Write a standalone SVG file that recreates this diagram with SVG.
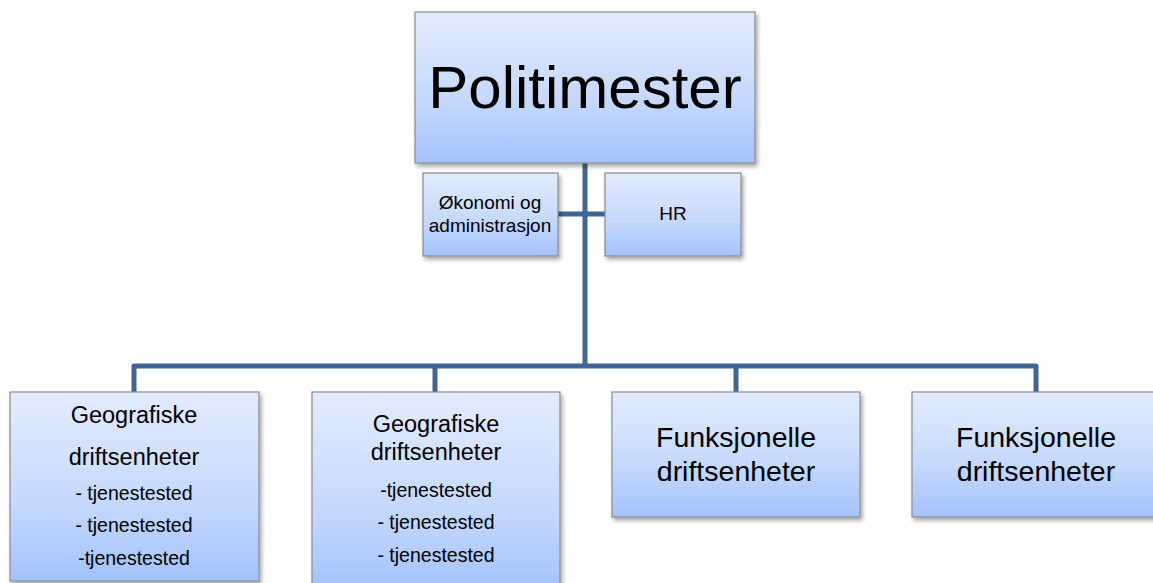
<svg xmlns="http://www.w3.org/2000/svg" width="1153" height="583" viewBox="0 0 1153 583">
<defs>
<linearGradient id="g" x1="0" y1="0" x2="0" y2="1">
<stop offset="0" stop-color="#E3ECFE"/>
<stop offset="0.6" stop-color="#C4D8FD"/>
<stop offset="1" stop-color="#A3C2FC"/>
</linearGradient>
<filter id="sh" x="-10%" y="-10%" width="130%" height="130%">
<feDropShadow dx="2" dy="3" stdDeviation="2" flood-color="#000" flood-opacity="0.35"/>
</filter>
</defs>
<style>
.box{fill:url(#g);stroke:#8C8C8C;stroke-width:1.2;filter:url(#sh)}
.t{font-family:"Liberation Sans",Arial,sans-serif;fill:#000;text-anchor:middle}
.conn{fill:none;stroke:#3F6696;stroke-width:5;stroke-linejoin:round}
</style>
<rect width="1153" height="583" fill="#FFFFFF"/>
<g id="connectors">
<path class="conn" d="M585,163 V366"/>
<path class="conn" d="M557,214 H605"/>
<path class="conn" d="M134,392 V366 H1036 V392"/>
<path class="conn" d="M435,366 V392"/>
<path class="conn" d="M736,366 V392"/>
</g>
<g id="politimester">
<rect class="box" x="415" y="12" width="340" height="151"/>
<text class="t" x="585" y="108" font-size="60">Politimester</text>
</g>
<g id="okonomi">
<rect class="box" x="423" y="173" width="135" height="83"/>
<text class="t" x="490" y="209" font-size="19">Økonomi og</text>
<text class="t" x="490" y="232" font-size="19">administrasjon</text>
</g>
<g id="hr">
<rect class="box" x="605" y="173" width="136" height="83"/>
<text class="t" x="673" y="220" font-size="19">HR</text>
</g>
<g id="geo1">
<rect class="box" x="10" y="392" width="249" height="189"/>
<text class="t" x="134" y="423" font-size="23.5">Geografiske</text>
<text class="t" x="134" y="465" font-size="23.5">driftsenheter</text>
<text class="t" x="134" y="500" font-size="19.5">- tjenestested</text>
<text class="t" x="134" y="532" font-size="19.5">- tjenestested</text>
<text class="t" x="134" y="565" font-size="19.5">-tjenestested</text>
</g>
<g id="geo2">
<rect class="box" x="312" y="392" width="248" height="200"/>
<text class="t" x="436" y="432" font-size="23.5">Geografiske</text>
<text class="t" x="436" y="460" font-size="23.5">driftsenheter</text>
<text class="t" x="436" y="497" font-size="19.5">-tjenestested</text>
<text class="t" x="436" y="529" font-size="19.5">- tjenestested</text>
<text class="t" x="436" y="562" font-size="19.5">- tjenestested</text>
</g>
<g id="funk1">
<rect class="box" x="612" y="392" width="248" height="125"/>
<text class="t" x="736" y="447" font-size="28.5">Funksjonelle</text>
<text class="t" x="736" y="481" font-size="28.5">driftsenheter</text>
</g>
<g id="funk2">
<rect class="box" x="912" y="392" width="248" height="125"/>
<text class="t" x="1036" y="447" font-size="28.5">Funksjonelle</text>
<text class="t" x="1036" y="481" font-size="28.5">driftsenheter</text>
</g>
</svg>
